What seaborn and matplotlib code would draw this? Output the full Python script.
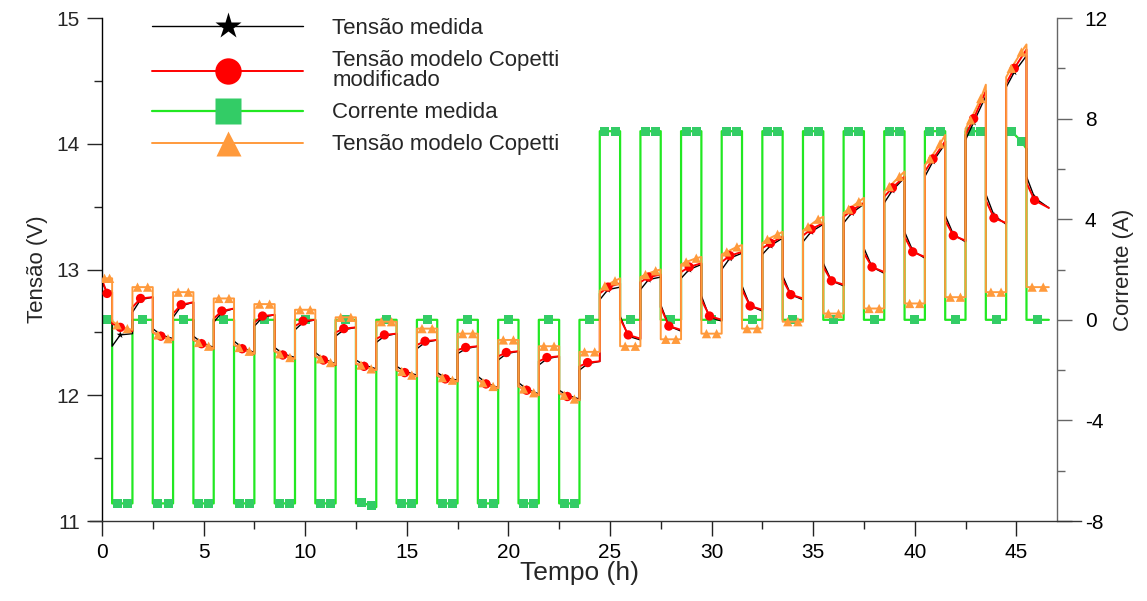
import matplotlib
matplotlib.use('Agg')  # Non-interactive backend
import matplotlib.pyplot as plt
from matplotlib.lines import Line2D
from matplotlib.ticker import MultipleLocator
import pandas as pd
import seaborn as sns

# --- tempos dos segmentos (h) ---
t_repouso_ini = [0.0, 1.5, 3.5, 5.5, 7.5, 9.5, 11.5, 13.5, 15.5, 17.5, 19.5, 21.5,
                 23.5, 25.5, 27.5, 29.5, 31.5, 33.5, 35.5, 37.5, 39.5, 41.5, 43.5, 45.5]
t_repouso_fim = [0.5, 2.5, 4.5, 6.5, 8.5, 10.5, 12.5, 14.5, 16.5, 18.5, 20.5, 22.5,
                 24.5, 26.5, 28.5, 30.5, 32.5, 34.5, 36.5, 38.5, 40.5, 42.5, 44.5, 46.6]
t_descarga_ini = [0.5, 2.5, 4.5, 6.5, 8.5, 10.5, 12.5, 14.5, 16.5, 18.5, 20.5, 22.5]
t_descarga_fim = [1.5, 3.5, 5.5, 7.5, 9.5, 11.5, 13.5, 15.5, 17.5, 19.5, 21.5, 23.5]
t_carga_ini = [24.5, 26.5, 28.5, 30.5, 32.5, 34.5, 36.5, 38.5, 40.5, 42.5, 44.5]
t_carga_fim = [25.5, 27.5, 29.5, 31.5, 33.5, 35.5, 37.5, 39.5, 41.5, 43.5, 45.5]

# --- Tensão modelo Copetti (V): repouso constante, pulsos [ini, 1/4, 3/4, fim] ---
cop_repouso = [12.93, 12.86, 12.82, 12.77, 12.725, 12.68, 12.62, 12.585, 12.53, 12.49, 12.44, 12.39,
               12.345, 12.39, 12.445, 12.49, 12.53, 12.585, 12.65, 12.69, 12.73, 12.78, 12.82, 12.86]
cop_descarga = [[12.59, 12.56, 12.53, 12.52], [12.50, 12.48, 12.45, 12.44],
                [12.44, 12.42, 12.39, 12.37], [12.40, 12.38, 12.35, 12.33],
                [12.35, 12.33, 12.30, 12.29], [12.31, 12.29, 12.26, 12.245],
                [12.25, 12.24, 12.21, 12.20], [12.20, 12.19, 12.16, 12.15],
                [12.155, 12.14, 12.12, 12.11], [12.12, 12.10, 12.07, 12.055],
                [12.07, 12.05, 12.02, 12.00], [12.015, 12.00, 11.97, 11.96]]
cop_carga = [[12.83, 12.87, 12.91, 12.93], [12.94, 12.96, 12.99, 13.00],
             [13.04, 13.06, 13.09, 13.10], [13.12, 13.14, 13.18, 13.195],
             [13.21, 13.24, 13.28, 13.30], [13.31, 13.34, 13.40, 13.42],
             [13.45, 13.48, 13.54, 13.57], [13.62, 13.66, 13.74, 13.78],
             [13.83, 13.88, 14.00, 14.07], [14.12, 14.19, 14.36, 14.47],
             [14.53, 14.60, 14.73, 14.79]]

# --- Tensão modelo Copetti modificado (V): [ini, ini+0.4 h, fim] ---
mod_repouso = [[12.92, 12.81, 12.82], [12.70, 12.77, 12.78], [12.65, 12.72, 12.74],
               [12.61, 12.67, 12.69], [12.58, 12.63, 12.64], [12.55, 12.59, 12.60],
               [12.50, 12.53, 12.54], [12.45, 12.48, 12.49], [12.40, 12.43, 12.44],
               [12.36, 12.38, 12.39], [12.31, 12.34, 12.35], [12.27, 12.30, 12.31],
               [12.23, 12.26, 12.27], [12.61, 12.48, 12.45], [12.70, 12.55, 12.52],
               [12.76, 12.63, 12.60], [12.84, 12.71, 12.68], [12.92, 12.80, 12.77],
               [13.02, 12.91, 12.88], [13.13, 13.02, 12.98], [13.26, 13.14, 13.10],
               [13.39, 13.27, 13.23], [13.55, 13.41, 13.37], [13.69, 13.55, 13.49]]
mod_descarga = [[12.57, 12.54, 12.51], [12.50, 12.47, 12.44], [12.44, 12.41, 12.37],
                [12.40, 12.37, 12.33], [12.35, 12.32, 12.29], [12.31, 12.28, 12.24],
                [12.25, 12.23, 12.20], [12.20, 12.18, 12.15], [12.155, 12.13, 12.11],
                [12.12, 12.09, 12.055], [12.07, 12.04, 12.00], [12.015, 11.99, 11.96]]
mod_carga = [[12.81, 12.86, 12.89], [12.90, 12.94, 12.96], [12.98, 13.02, 13.05],
             [13.06, 13.11, 13.14], [13.17, 13.21, 13.26], [13.27, 13.32, 13.37],
             [13.42, 13.47, 13.53], [13.58, 13.65, 13.74], [13.78, 13.88, 14.02],
             [14.07, 14.20, 14.42], [14.48, 14.60, 14.75]]

# --- Tensão medida (V): [ini, ini+0.4 h, fim] ---
med_repouso = [[12.90, 12.82, 12.83], [12.66, 12.76, 12.78], [12.62, 12.71, 12.74],
               [12.58, 12.66, 12.69], [12.55, 12.62, 12.64], [12.52, 12.58, 12.60],
               [12.47, 12.52, 12.54], [12.42, 12.47, 12.49], [12.37, 12.42, 12.44],
               [12.33, 12.37, 12.39], [12.28, 12.33, 12.35], [12.24, 12.29, 12.31],
               [12.20, 12.25, 12.27], [12.63, 12.47, 12.44], [12.72, 12.55, 12.51],
               [12.79, 12.62, 12.59], [12.87, 12.71, 12.67], [12.95, 12.80, 12.76],
               [13.05, 12.91, 12.87], [13.17, 13.02, 12.97], [13.30, 13.15, 13.09],
               [13.43, 13.28, 13.22], [13.60, 13.43, 13.36], [13.74, 13.57, 13.49]]
med_descarga = [[12.39, 12.48, 12.49], [12.53, 12.48, 12.45], [12.47, 12.42, 12.38],
                [12.43, 12.38, 12.34], [12.38, 12.33, 12.30], [12.34, 12.29, 12.25],
                [12.28, 12.24, 12.21], [12.23, 12.19, 12.16], [12.18, 12.14, 12.12],
                [12.15, 12.10, 12.06], [12.10, 12.05, 12.01], [12.04, 12.00, 11.97]]
med_carga = [[12.76, 12.84, 12.86], [12.84, 12.92, 12.94], [12.93, 13.00, 13.04],
             [13.00, 13.09, 13.13], [13.12, 13.19, 13.25], [13.22, 13.30, 13.36],
             [13.37, 13.45, 13.52], [13.53, 13.63, 13.73], [13.74, 13.86, 14.00],
             [14.03, 14.17, 14.38], [14.45, 14.57, 14.70]]

# --- Corrente medida (A): repouso 0, pulsos [ini, 1/4, 3/4, fim] ---
corr_repouso = [0.0] * 24
corr_descarga = [[-7.3, -7.3, -7.3, -7.3], [-7.3, -7.3, -7.3, -7.3], [-7.3, -7.3, -7.3, -7.3],
                 [-7.3, -7.3, -7.3, -7.3], [-7.3, -7.3, -7.3, -7.3], [-7.3, -7.3, -7.3, -7.3],
                 [-7.3, -7.25, -7.4, -7.45], [-7.3, -7.3, -7.3, -7.3], [-7.3, -7.3, -7.3, -7.3],
                 [-7.3, -7.3, -7.3, -7.3], [-7.3, -7.3, -7.3, -7.3], [-7.3, -7.3, -7.3, -7.3]]
corr_carga = [[7.5, 7.5, 7.5, 7.5], [7.5, 7.5, 7.5, 7.5], [7.5, 7.5, 7.5, 7.5],
              [7.5, 7.5, 7.5, 7.5], [7.5, 7.5, 7.5, 7.5], [7.5, 7.5, 7.5, 7.5],
              [7.5, 7.5, 7.5, 7.5], [7.5, 7.5, 7.5, 7.5], [7.5, 7.5, 7.5, 7.5],
              [7.5, 7.5, 7.5, 7.5], [7.5, 7.5, 7.1, 6.8]]

legendas = ['Tensão medida', 'Tensão modelo Copetti\nmodificado',
            'Corrente medida', 'Tensão modelo Copetti']


def segmentos():
    segs = [(a, b, 'rep', i) for i, (a, b) in enumerate(zip(t_repouso_ini, t_repouso_fim))]
    segs += [(a, b, 'desc', i) for i, (a, b) in enumerate(zip(t_descarga_ini, t_descarga_fim))]
    segs += [(a, b, 'carga', i) for i, (a, b) in enumerate(zip(t_carga_ini, t_carga_fim))]
    return sorted(segs)


def serie_3pts(rep, desc, carga):
    """Line points + marker points for series given as [ini, ini+0.4h, fim]."""
    tabela = {'rep': rep, 'desc': desc, 'carga': carga}
    linha, marc = [], []
    for a, b, tipo, i in segmentos():
        v = tabela[tipo][i]
        tm = a + min(0.4, (b - a) / 2)
        linha += [(a, v[0]), (tm, v[1]), (b, v[2])]
        marc.append((tm, v[1]))
    return pd.DataFrame(linha, columns=['t', 'v']), pd.DataFrame(marc, columns=['t', 'v'])


def serie_4pts(rep, desc, carga, marca_repouso):
    """Flat value in rest, [ini, 1/4, 3/4, fim] in pulses."""
    linha, marc = [], []
    for a, b, tipo, i in segmentos():
        d = b - a
        if tipo == 'rep':
            v = rep[i]
            linha += [(a, v), (b, v)]
            marc += [(a + f * d, v) for f in marca_repouso]
        else:
            v = (desc if tipo == 'desc' else carga)[i]
            ts = [a, a + 0.25 * d, a + 0.75 * d, b]
            linha += list(zip(ts, v))
            marc += [(ts[1], v[1]), (ts[2], v[2])]
    return pd.DataFrame(linha, columns=['t', 'v']), pd.DataFrame(marc, columns=['t', 'v'])


sns.set_theme(style='white')
plt.rcParams['font.family'] = ['Liberation Sans', 'DejaVu Sans']
plt.rcParams['axes.unicode_minus'] = False

cor_med = '#000000'
cor_mod = '#ff0000'
cor_corr_linha = '#22e822'
cor_corr_marc = '#33cc66'
cor_cop = '#ff9a3c'

fig = plt.figure(figsize=(11.47, 6.01), dpi=100)
ax = fig.add_axes([0.0889, 0.1331, 0.8326, 0.8369])
ax2 = ax.twinx()

med_l, med_m = serie_3pts(med_repouso, med_descarga, med_carga)
mod_l, mod_m = serie_3pts(mod_repouso, mod_descarga, mod_carga)
cop_l, cop_m = serie_4pts(cop_repouso, cop_descarga, cop_carga, [0.25, 0.75])
corr_l, corr_m = serie_4pts(corr_repouso, corr_descarga, corr_carga, [0.5])

# corrente no eixo da direita (atrás)
sns.lineplot(data=corr_l, x='t', y='v', sort=False, estimator=None, color=cor_corr_linha,
             lw=1.6, ax=ax2)
sns.scatterplot(data=corr_m, x='t', y='v', marker='s', s=42, color=cor_corr_marc,
                edgecolor='none', ax=ax2, zorder=3)

# tensões no eixo da esquerda (na frente)
sns.lineplot(data=med_l, x='t', y='v', sort=False, estimator=None, color=cor_med, lw=1.0, ax=ax)
sns.scatterplot(data=med_m, x='t', y='v', marker='*', s=30, color=cor_med,
                edgecolor='none', ax=ax, zorder=3)
sns.lineplot(data=mod_l, x='t', y='v', sort=False, estimator=None, color=cor_mod, lw=1.4, ax=ax)
sns.scatterplot(data=mod_m, x='t', y='v', marker='o', s=45, color=cor_mod,
                edgecolor='none', ax=ax, zorder=4)
sns.lineplot(data=cop_l, x='t', y='v', sort=False, estimator=None, color=cor_cop, lw=1.4, ax=ax)
sns.scatterplot(data=cop_m, x='t', y='v', marker='^', s=45, color=cor_cop,
                edgecolor='none', ax=ax, zorder=5)

ax.set_zorder(ax2.get_zorder() + 1)
ax.patch.set_visible(False)

ax.set_xlim(0, 47)
ax.set_ylim(11, 15)
ax2.set_ylim(-8, 12)
ax.xaxis.set_major_locator(MultipleLocator(5))
ax.xaxis.set_minor_locator(MultipleLocator(2.5))
ax.yaxis.set_major_locator(MultipleLocator(1))
ax.yaxis.set_minor_locator(MultipleLocator(0.5))
ax2.yaxis.set_major_locator(MultipleLocator(4))
ax2.yaxis.set_minor_locator(MultipleLocator(2))

for a in (ax, ax2):
    a.tick_params(which='major', direction='out', length=11, width=1, labelsize=15, pad=5)
    a.tick_params(which='minor', direction='out', length=6, width=1)
    a.spines['top'].set_visible(False)
ax.tick_params(axis='x', bottom=True, which='both', colors='#222222', labelcolor='black')
ax.tick_params(axis='y', left=True, which='both')
ax2.tick_params(axis='y', right=True, which='both', colors='#666666', labelcolor='black')
ax2.tick_params(axis='y', which='major', pad=9)
ax.spines['right'].set_visible(False)
ax2.spines['left'].set_visible(False)
ax2.spines['bottom'].set_visible(False)
ax.spines['left'].set_color('black')
ax.spines['bottom'].set_color('#333333')
ax2.spines['right'].set_color('#666666')
ax.spines['bottom'].set_bounds(-0.6, 48.2)
for s in ('left', 'bottom'):
    ax.spines[s].set_linewidth(1.0)
ax2.spines['right'].set_linewidth(1.0)

ax.set_xlabel('Tempo (h)', fontsize=19, labelpad=-1)
ax.set_ylabel('Tensão (V)', fontsize=16, labelpad=6)
ax2.set_ylabel('Corrente (A)', fontsize=16, labelpad=4)

handles = [
    Line2D([], [], color=cor_med, lw=1.0, marker='*', ms=20, mec='none'),
    Line2D([], [], color=cor_mod, lw=1.4, marker='o', ms=19, mec='none'),
    Line2D([], [], color=cor_corr_linha, lw=1.6, marker='s', ms=19,
           mfc=cor_corr_marc, mec='none'),
    Line2D([], [], color=cor_cop, lw=1.4, marker='^', ms=18, mec='none'),
]
leg = ax.legend(handles, legendas, loc='upper left', bbox_to_anchor=(0.125, 0.985),
                bbox_transform=fig.transFigure, frameon=False, fontsize=16,
                handlelength=6.8, handletextpad=1.3, labelspacing=0.5, borderaxespad=0)
for txt in leg.get_texts():
    txt.set_linespacing(0.95)

fig.savefig('out.png', dpi=100)
plt.close(fig)
